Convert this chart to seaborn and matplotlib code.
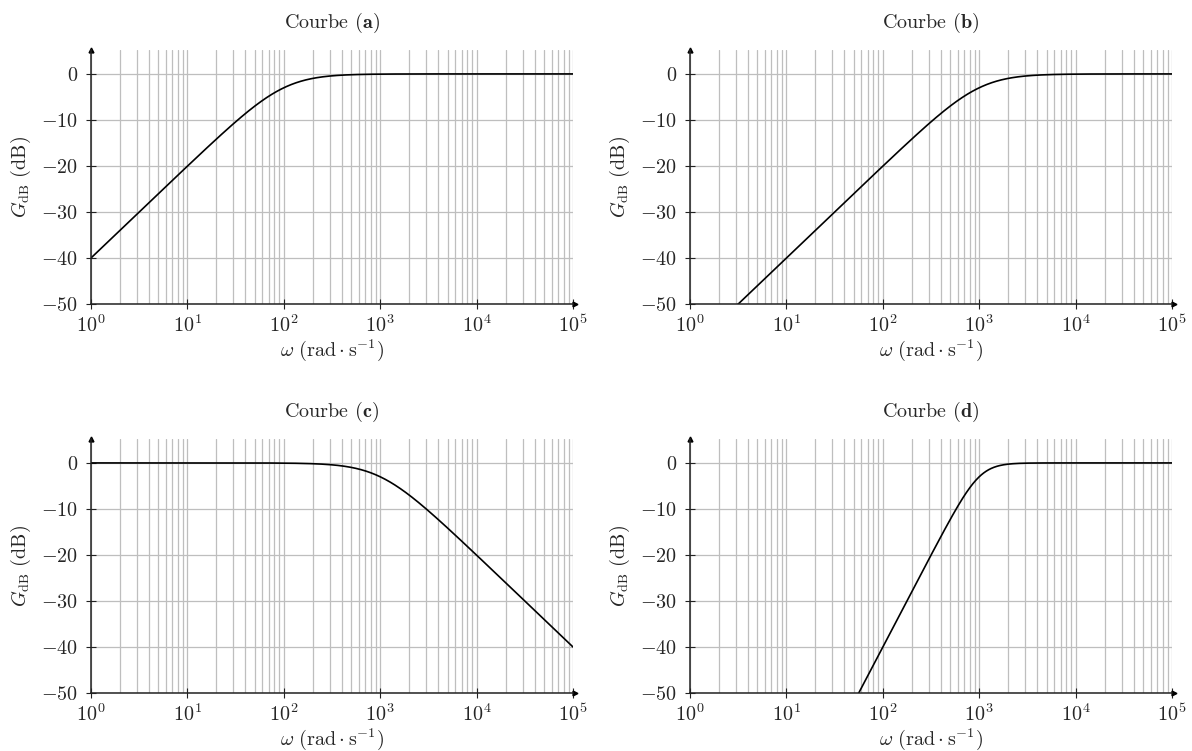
import numpy as np
import pandas as pd
import matplotlib
matplotlib.use("Agg")
import matplotlib.pyplot as plt
import matplotlib.ticker as mticker
import seaborn as sns

# Filter parameters for each Bode magnitude curve
LABELS = ["a", "b", "c", "d"]
CUTOFF = [100.0, 1000.0, 1000.0, 1000.0]   # rad/s
ORDER = [1, 1, 1, 2]
KIND = ["high", "high", "low", "high"]

Y_TICKS = [0, -10, -20, -30, -40, -50]
X_DECADES = [0, 1, 2, 3, 4, 5]

sns.set_style("white")
plt.rcParams["font.family"] = ["cmr10"]
plt.rcParams["mathtext.fontset"] = "cm"
plt.rcParams["axes.unicode_minus"] = False


def gain_db(w, wc, order, kind):
    x = w / wc
    if kind == "low":
        h = 1.0 / np.sqrt(1.0 + x ** (2 * order))
    else:
        h = x ** order / np.sqrt(1.0 + x ** (2 * order))
    return 20.0 * np.log10(h)


omega = np.logspace(0, 5, 800)
frames = []
for lab, wc, n, k in zip(LABELS, CUTOFF, ORDER, KIND):
    frames.append(pd.DataFrame({"omega": omega,
                                "gain": gain_db(omega, wc, n, k),
                                "curve": lab}))
df = pd.concat(frames, ignore_index=True)

fig = plt.figure(figsize=(11.92, 7.51), dpi=100)
positions = [
    (91 / 1192, 1 - 304 / 751, 482 / 1192, 254 / 751),
    (690 / 1192, 1 - 304 / 751, 482 / 1192, 254 / 751),
    (91 / 1192, 1 - 693 / 751, 482 / 1192, 254 / 751),
    (690 / 1192, 1 - 693 / 751, 482 / 1192, 254 / 751),
]

grid_c = "#bebebe"
fs = 14.5

for lab, pos in zip(LABELS, positions):
    ax = fig.add_axes(pos)
    ax.set_xscale("log")
    ax.set_xlim(1, 1e5)
    ax.set_ylim(-50, 5.2)

    # grid: every decade and sub-decade vertically, every 10 dB horizontally
    ax.xaxis.set_major_locator(mticker.FixedLocator([10.0 ** d for d in X_DECADES]))
    ax.xaxis.set_minor_locator(mticker.LogLocator(base=10, subs=np.arange(2, 10), numticks=20))
    ax.yaxis.set_major_locator(mticker.FixedLocator(Y_TICKS))
    ax.grid(True, which="major", axis="both", color=grid_c, lw=0.9)
    ax.grid(True, which="minor", axis="x", color=grid_c, lw=0.9)
    ax.set_axisbelow(True)

    sub = df[df["curve"] == lab]
    sns.lineplot(data=sub, x="omega", y="gain", ax=ax, color="black",
                 lw=1.2, legend=False)

    ax.xaxis.set_major_formatter(mticker.FixedFormatter(
        [rf"$10^{{{d}}}$" for d in X_DECADES]))
    ax.yaxis.set_major_formatter(mticker.FixedFormatter(
        [rf"${v}$" if v >= 0 else rf"$-{abs(v)}$" for v in Y_TICKS]))
    ax.xaxis.set_minor_formatter(mticker.NullFormatter())

    for s in ["top", "right"]:
        ax.spines[s].set_visible(False)
    for s in ["left", "bottom"]:
        ax.spines[s].set_color("#222222")
        ax.spines[s].set_linewidth(1.1)

    ax.tick_params(axis="x", which="major", direction="inout", length=7,
                   width=0.8, color="#222222", labelsize=fs, pad=4)
    ax.tick_params(axis="x", which="minor", direction="inout", length=4,
                   width=0.6, color="#222222")
    ax.tick_params(axis="y", which="major", direction="inout", length=7,
                   width=0.8, color="#222222", labelsize=fs, pad=6)
    ax.tick_params(bottom=True, left=True)

    # axis arrows
    ax.plot([1.004], [0], marker=">", ms=3.5, color="black",
            transform=ax.transAxes, clip_on=False)
    ax.plot([0], [1.0], marker="^", ms=3.5, color="black",
            transform=ax.transAxes, clip_on=False)

    ax.set_xlabel(r"$\omega\ (\mathrm{rad}\cdot\mathrm{s}^{-1})$", fontsize=fs, labelpad=1)
    ax.set_ylabel(r"$G_{\mathrm{dB}}\ (\mathrm{dB})$", fontsize=fs, labelpad=6)
    ax.set_title(rf"Courbe ($\mathbf{{{lab}}}$)", fontsize=fs, pad=16)

fig.savefig("out.png", dpi=100, facecolor="white")
